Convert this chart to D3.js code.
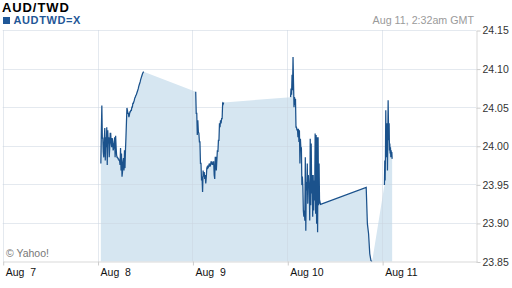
<!DOCTYPE html>
<html><head><meta charset="utf-8">
<script src="https://cdn.jsdelivr.net/npm/d3@7"></script>
<style>
body{margin:0;background:#fff}
svg{display:block}
text{font-family:"Liberation Sans",Arial,Helvetica,sans-serif}
</style>
</head><body>
<svg id="c" width="512" height="288"></svg>
<script>
const title = "AUD/TWD";
const symbol = "AUDTWD=X";
const stamp = "Aug 11, 2:32am GMT";
const credit = "\u00A9 Yahoo!";
const dayTicks = ["2010-08-07","2010-08-08","2010-08-09","2010-08-10","2010-08-11"];
const yTicks = [23.85, 23.90, 23.95, 24.00, 24.05, 24.10, 24.15];
const xDomain = ["2010-08-07T00:00Z", "2010-08-12T00:00Z"];
const yDomain = [23.85, 24.15];

const segATimes = ["2010-08-08T00:50Z", "2010-08-08T11:40Z"];
const segAValues = [
  23.977,24.018, 24.052,24.010, 24.010,23.992, 23.985,24.007, 24.023,23.981,
  24.011,23.998, 24.024,23.975, 24.020,24.003, 24.011,23.985, 23.997,24.016,
  24.016,24.003, 23.998,24.010, 24.005,23.994, 23.997,24.003, 24.011,23.985,
  24.013,23.998, 23.988,23.985, 23.985,23.983, 23.983,23.981, 23.981,23.975,
  23.997,23.968, 23.990,23.960, 23.966,23.979, 23.984,23.968, 23.994,23.971,
  23.994,24.011, 24.030,24.049, 24.046,24.042, 24.042,24.037, 24.040,24.044,
  24.044,24.046, 24.046,24.050, 24.050,24.055, 24.055,24.057, 24.059,24.062,
  24.063,24.065, 24.066,24.068, 24.070,24.072, 24.074,24.077, 24.079,24.081,
  24.083,24.086, 24.088,24.090, 24.092,24.094, 24.095,24.096
];
const segBTimes = ["2010-08-09T00:50Z", "2010-08-09T07:55Z"];
const segBValues = [
  24.070,24.042, 24.042,24.014, 24.033,24.018, 24.016,24.005, 24.005,23.977,
  23.977,23.955, 23.960,23.940, 23.968,23.960, 23.966,23.957, 23.962,23.951,
  23.959,23.971, 23.973,23.971, 23.972,23.975, 23.977,23.973, 23.975,23.979,
  23.979,23.976, 23.976,23.979, 23.979,23.962, 23.957,23.985, 23.985,23.968,
  23.981,23.994, 23.992,24.007, 24.007,24.029, 24.024,24.033, 24.029,24.035,
  24.035,24.055, 24.054,24.056
];
const segCTimes = ["2010-08-10T00:50Z", "2010-08-10T08:25Z"];
const segCValues = [
  24.063,24.074, 24.066,24.092, 24.072,24.115, 24.081,24.050, 24.063,24.053,
  24.061,24.024, 24.024,24.020, 24.022,24.011, 24.022,24.005, 24.020,23.977,
  24.009,23.996, 23.998,23.949, 23.960,23.947, 23.916,23.908, 23.916,23.903,
  23.985,23.890, 23.953,23.942, 23.977,23.925, 23.962,23.951, 23.951,23.903,
  24.009,23.923, 24.003,23.938, 23.962,23.908, 23.962,23.916, 23.955,23.929,
  24.016,23.912, 24.014,23.899, 24.011,23.888, 24.011,23.923, 23.977,23.925,
  23.927,23.924
];
const segC2Times = ["2010-08-10T19:58Z", "2010-08-10T21:28Z"];
const segC2Values = [23.946, 23.899, 23.886, 23.860, 23.851, 23.850];
const segDTimes = ["2010-08-11T00:35Z", "2010-08-11T02:32Z"];
const segDValues = [
  23.949,23.981, 23.955,23.985, 24.046,23.985, 23.998,24.029, 24.016,23.968,
  24.011,24.059, 24.029,24.007, 24.029,23.994, 24.003,23.990, 23.998,23.985,
  23.994,23.985, 23.992,23.983
];

function seg(times, values) {
  const t0 = +new Date(times[0]), t1 = +new Date(times[1]);
  return values.map((v, i) => ({ t: new Date(t0 + (t1 - t0) * i / (values.length - 1)), v }));
}
const A = seg(segATimes, segAValues);
const B = seg(segBTimes, segBValues);
const C = seg(segCTimes, segCValues).concat(seg(segC2Times, segC2Values));
const D = seg(segDTimes, segDValues);
const lines = [A, B, C, D];
const all = [].concat(A, B, C, D);

const svg = d3.select("#c");
const x = d3.scaleUtc().domain(xDomain.map(d => new Date(d))).range([2.7, 477]);
const y = d3.scaleLinear().domain(yDomain).range([261.5, 30]);
const xRight = 476;

// area
svg.append("path")
  .datum(all)
  .attr("fill", "#d6e6f1")
  .attr("d", d3.area().x(d => x(d.t)).y0(y(yDomain[0])).y1(d => y(d.v)));

// grid
const grid = svg.append("g").attr("stroke", "#c9d3df").attr("stroke-opacity", 0.5).attr("stroke-width", 1);
grid.selectAll("line.h").data(yTicks.slice(1)).join("line")
  .attr("x1", x(new Date(xDomain[0]))).attr("x2", xRight)
  .attr("y1", d => Math.round(y(d)) + 0.5).attr("y2", d => Math.round(y(d)) + 0.5);
grid.selectAll("line.v").data(dayTicks).join("line")
  .attr("x1", d => Math.round(x(new Date(d + "T00:00Z"))) + 0.5)
  .attr("x2", d => Math.round(x(new Date(d + "T00:00Z"))) + 0.5)
  .attr("y1", 30).attr("y2", 261.5);

// line
const lineGen = d3.line().x(d => x(d.t)).y(d => y(d.v));
svg.append("g").selectAll("path").data(lines).join("path")
  .attr("fill", "none").attr("stroke", "#1b528c").attr("stroke-width", 1.25)
  .attr("stroke-linejoin", "miter")
  .attr("d", lineGen);

// right axis
const ya = svg.append("g").attr("transform", `translate(${xRight + 0.5},0.5)`)
  .call(d3.axisRight(y).tickValues(yTicks).tickSize(4).tickSizeOuter(0).tickFormat(d3.format(".2f")));
ya.select(".domain").attr("stroke", "#d9d9d9");
ya.selectAll(".tick line").attr("stroke", "#cccccc");
ya.selectAll(".tick text").attr("x", 6).attr("fill", "#333").attr("font-size", 10.5)
  .attr("font-family", "Liberation Sans, Arial, sans-serif");

// bottom axis
const xa = svg.append("g").attr("transform", `translate(0.5,${261.5})`)
  .call(d3.axisBottom(x).tickValues(dayTicks.map(d => new Date(d + "T00:00Z"))).tickSize(4).tickSizeOuter(0)
    .tickFormat(d3.utcFormat("%b %e")));
xa.select(".domain").attr("stroke", "#d9d9d9");
xa.selectAll(".tick line").attr("stroke", "#cccccc");
xa.selectAll(".tick text").attr("text-anchor", "start").attr("x", 2).attr("y", 14.5).attr("dy", 0)
  .attr("fill", "#111").attr("font-size", 10.5).style("white-space", "pre")
  .attr("font-family", "Liberation Sans, Arial, sans-serif");

// texts
svg.append("text").attr("x", 2).attr("y", 12).attr("font-size", 13).attr("font-weight", "bold")
  .attr("letter-spacing", 0.9).attr("fill", "#000").text(title);
svg.append("rect").attr("x", 3).attr("y", 17).attr("width", 7).attr("height", 7).attr("fill", "#1f5797");
svg.append("text").attr("x", 13.5).attr("y", 24.3).attr("font-size", 11).attr("font-weight", "bold")
  .attr("letter-spacing", 0.6).attr("fill", "#1f5797").text(symbol);
svg.append("text").attr("x", 474).attr("y", 24).attr("text-anchor", "end").attr("font-size", 10.7)
  .attr("fill", "#9a9a9a").text(stamp);
svg.append("text").attr("x", 6).attr("y", 256.5).attr("font-size", 10.5)
  .attr("fill", "#777").text(credit);
</script>
</body></html>
